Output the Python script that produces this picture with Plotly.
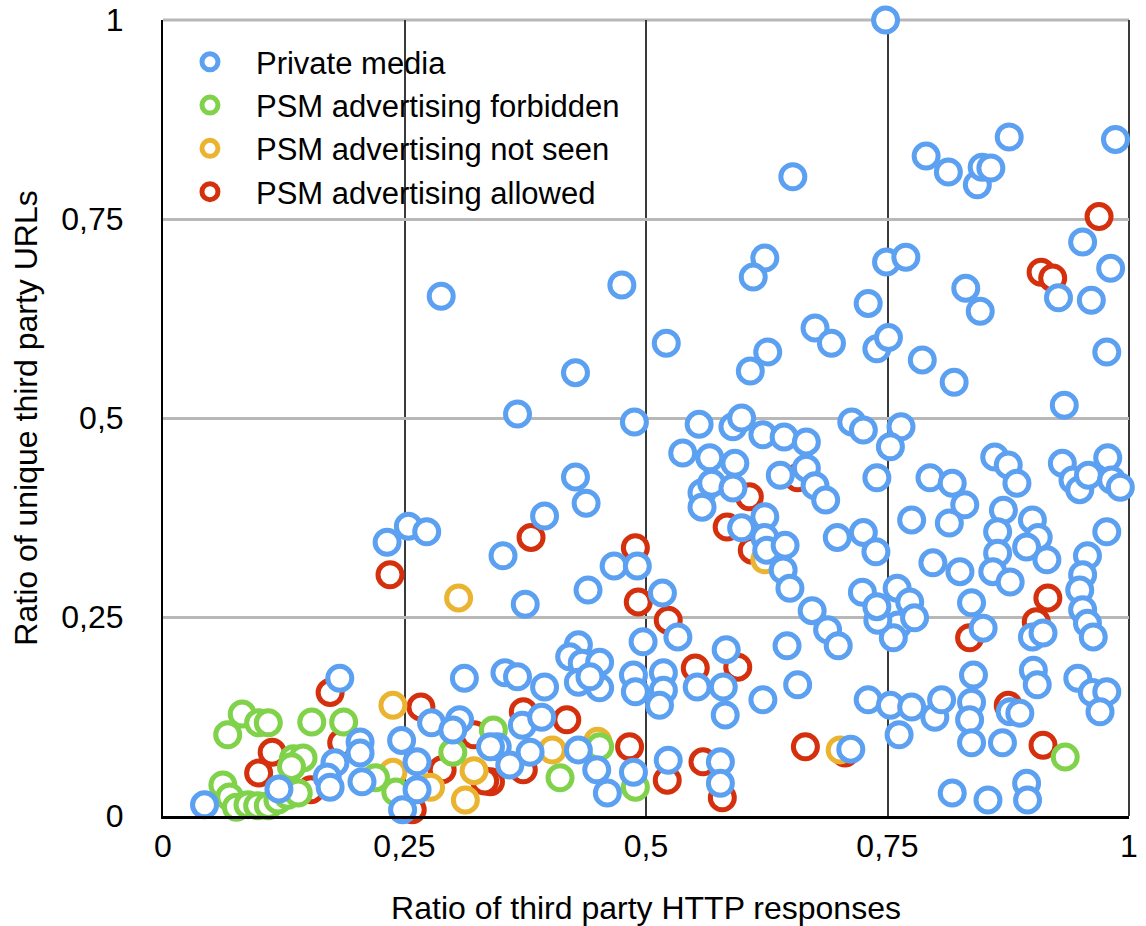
import plotly.graph_objects as go

# ---------------- data ----------------
series_names = ["Private media", "PSM advertising forbidden",
                "PSM advertising not seen", "PSM advertising allowed"]

private_x = [0.748, 0.790, 0.813, 0.843, 0.848, 0.857, 0.876, 0.986, 0.652, 0.952,
             0.981, 0.623, 0.611, 0.749, 0.769, 0.831, 0.846, 0.927, 0.961, 0.730,
             0.933, 0.288, 0.475, 0.521, 0.675, 0.692, 0.626, 0.608, 0.427, 0.367,
             0.488, 0.555, 0.590, 0.599, 0.621, 0.643, 0.666, 0.538, 0.566, 0.592,
             0.639, 0.666, 0.675, 0.686, 0.427, 0.438, 0.395, 0.352, 0.558, 0.558,
             0.568, 0.590, 0.599, 0.623, 0.623, 0.625, 0.644, 0.467, 0.491, 0.232,
             0.254, 0.273, 0.739, 0.751, 0.786, 0.819, 0.977, 0.713, 0.725, 0.764,
             0.753, 0.739, 0.861, 0.875, 0.884, 0.931, 0.942, 0.949, 0.958, 0.978,
             0.982, 0.991, 0.794, 0.817, 0.830, 0.775, 0.814, 0.870, 0.864, 0.900,
             0.906, 0.977, 0.698, 0.725, 0.738, 0.797, 0.825, 0.957, 0.864, 0.894,
             0.915, 0.859, 0.877, 0.952, 0.724, 0.760, 0.773, 0.761, 0.778, 0.756,
             0.740, 0.739, 0.672, 0.688, 0.699, 0.837, 0.949, 0.952, 0.957, 0.963,
             0.849, 0.900, 0.911, 0.839, 0.901, 0.905, 0.947, 0.962, 0.977, 0.970,
             0.730, 0.753, 0.775, 0.799, 0.806, 0.837, 0.835, 0.837, 0.869, 0.877,
             0.887, 0.762, 0.712, 0.817, 0.854, 0.894, 0.895, 0.642, 0.649, 0.440,
             0.375, 0.517, 0.533, 0.497, 0.646, 0.583, 0.430, 0.421, 0.434, 0.452,
             0.430, 0.452, 0.442, 0.354, 0.367, 0.395, 0.487, 0.489, 0.518, 0.518,
             0.514, 0.553, 0.580, 0.582, 0.621, 0.657, 0.372, 0.392, 0.346, 0.359,
             0.380, 0.430, 0.449, 0.487, 0.460, 0.523, 0.577, 0.577, 0.183, 0.312,
             0.278, 0.307, 0.300, 0.204, 0.204, 0.178, 0.170, 0.173, 0.206, 0.247,
             0.263, 0.263, 0.248, 0.120, 0.043, 0.339]
private_y = [1.000, 0.829, 0.809, 0.793, 0.815, 0.814, 0.853, 0.850, 0.803, 0.721,
             0.688, 0.701, 0.677, 0.696, 0.702, 0.663, 0.634, 0.651, 0.648, 0.644,
             0.516, 0.653, 0.667, 0.594, 0.613, 0.594, 0.583, 0.559, 0.557, 0.505,
             0.495, 0.492, 0.489, 0.500, 0.479, 0.476, 0.470, 0.456, 0.450, 0.443,
             0.428, 0.437, 0.415, 0.397, 0.426, 0.393, 0.377, 0.327, 0.406, 0.388,
             0.418, 0.412, 0.362, 0.376, 0.350, 0.334, 0.340, 0.314, 0.314, 0.344,
             0.364, 0.357, 0.587, 0.601, 0.573, 0.545, 0.583, 0.495, 0.485, 0.489,
             0.464, 0.425, 0.451, 0.441, 0.418, 0.443, 0.422, 0.410, 0.428, 0.450,
             0.422, 0.413, 0.425, 0.418, 0.391, 0.372, 0.368, 0.384, 0.357, 0.372,
             0.350, 0.357, 0.350, 0.356, 0.332, 0.318, 0.307, 0.327, 0.330, 0.338,
             0.322, 0.307, 0.294, 0.303, 0.281, 0.286, 0.269, 0.240, 0.249, 0.224,
             0.246, 0.263, 0.258, 0.234, 0.214, 0.268, 0.284, 0.259, 0.242, 0.225,
             0.236, 0.225, 0.230, 0.177, 0.183, 0.165, 0.173, 0.155, 0.156, 0.131,
             0.146, 0.139, 0.137, 0.124, 0.146, 0.143, 0.121, 0.092, 0.092, 0.131,
             0.129, 0.102, 0.084, 0.029, 0.020, 0.041, 0.020, 0.309, 0.286, 0.284,
             0.266, 0.280, 0.225, 0.219, 0.214, 0.209, 0.215, 0.200, 0.192, 0.193,
             0.168, 0.161, 0.175, 0.180, 0.175, 0.162, 0.177, 0.156, 0.180, 0.158,
             0.139, 0.162, 0.162, 0.127, 0.146, 0.165, 0.114, 0.124, 0.087, 0.064,
             0.080, 0.083, 0.058, 0.055, 0.029, 0.070, 0.068, 0.041, 0.173, 0.173,
             0.117, 0.121, 0.108, 0.093, 0.079, 0.067, 0.049, 0.036, 0.043, 0.095,
             0.068, 0.033, 0.008, 0.034, 0.014, 0.087]

forbidden_x = [0.934, 0.411, 0.452, 0.489, 0.342, 0.300, 0.220, 0.082, 0.067, 0.099,
               0.109, 0.154, 0.187, 0.135, 0.145, 0.062, 0.069, 0.076, 0.088, 0.098,
               0.109, 0.119, 0.129, 0.140, 0.241, 0.133]
forbidden_y = [0.074, 0.048, 0.087, 0.036, 0.108, 0.080, 0.048, 0.128, 0.102, 0.117,
               0.117, 0.118, 0.118, 0.072, 0.073, 0.039, 0.024, 0.011, 0.014, 0.013,
               0.013, 0.020, 0.026, 0.029, 0.030, 0.062]

notseen_x = [0.306, 0.238, 0.238, 0.322, 0.277, 0.313, 0.403, 0.450, 0.701, 0.623]
notseen_y = [0.274, 0.139, 0.055, 0.057, 0.036, 0.020, 0.083, 0.094, 0.083, 0.322]

allowed_x = [0.969, 0.909, 0.921, 0.607, 0.584, 0.489, 0.381, 0.235, 0.492, 0.523,
             0.595, 0.551, 0.665, 0.373, 0.418, 0.373, 0.483, 0.339, 0.522, 0.559,
             0.579, 0.173, 0.267, 0.113, 0.099, 0.185, 0.322, 0.289, 0.333, 0.258,
             0.153, 0.916, 0.835, 0.904, 0.875, 0.911, 0.706, 0.657, 0.610]
allowed_y = [0.753, 0.683, 0.676, 0.401, 0.363, 0.337, 0.350, 0.303, 0.269, 0.246,
             0.187, 0.186, 0.087, 0.131, 0.121, 0.058, 0.087, 0.043, 0.045, 0.068,
             0.023, 0.155, 0.137, 0.080, 0.054, 0.092, 0.102, 0.058, 0.044, 0.008,
             0.033, 0.274, 0.224, 0.244, 0.139, 0.089, 0.079, 0.425, 0.334]

tick_vals = [0, 0.25, 0.5, 0.75, 1]
tick_text = ["0", "0,25", "0,5", "0,75", "1"]

x_title = "Ratio of third party HTTP responses"
y_title = "Ratio of unique third party URLs"

# ---------------- style ----------------
FONT = "Liberation Sans, Arial, Helvetica, sans-serif"
colors = {
    "Private media": "#5CA0F2",
    "PSM advertising forbidden": "#7FD24A",
    "PSM advertising not seen": "#EAB431",
    "PSM advertising allowed": "#D5300D",
}

fig = go.Figure()

# draw order: allowed, not seen, forbidden, private (private on top)
draw = [
    (series_names[3], allowed_x, allowed_y, 4),
    (series_names[2], notseen_x, notseen_y, 3),
    (series_names[1], forbidden_x, forbidden_y, 2),
    (series_names[0], private_x, private_y, 1),
]
for name, xs, ys, rank in draw:
    fig.add_trace(go.Scatter(
        x=xs, y=ys, mode="markers", name=name, legendrank=rank,
        cliponaxis=False,
        marker=dict(size=24, color="white",
                    line=dict(color=colors[name], width=5)),
    ))

fig.update_layout(
    width=1146, height=926,
    margin=dict(l=163, r=17, t=20, b=110, autoexpand=False),
    paper_bgcolor="white", plot_bgcolor="white",
    font=dict(family=FONT, size=31, color="black"),
    showlegend=True,
    legend=dict(
        x=0.001, y=0.981, xanchor="left", yanchor="top",
        bgcolor="rgba(0,0,0,0)", itemwidth=82,
        font=dict(family=FONT, size=31, color="black"),
        tracegroupgap=0, itemsizing="trace",
    ),
    shapes=[
        # white backdrop behind the legend (hides the grid there)
        dict(type="rect", xref="paper", yref="paper",
             x0=0.025, x1=0.50, y0=0.78, y1=0.971,
             fillcolor="white", line=dict(width=0), layer="between"),
        # top frame line (grey, like the horizontal grid)
        dict(type="line", xref="paper", yref="paper",
             x0=0, x1=1, y0=1, y1=1,
             line=dict(color="#b8b8b8", width=3), layer="below"),
        # right frame line (dark, like the vertical grid)
        dict(type="line", xref="paper", yref="paper",
             x0=1, x1=1, y0=0, y1=1,
             line=dict(color="#3a3a3a", width=2), layer="below"),
    ],
)

fig.update_xaxes(
    range=[0, 1], tickvals=tick_vals, ticktext=tick_text,
    showgrid=True, gridcolor="#3a3a3a", gridwidth=2,
    showline=True, linecolor="black", linewidth=3,
    zeroline=False, ticks="", ticklabelstandoff=0, automargin=False,
    ticklabeloverflow="allow",
    tickfont=dict(family=FONT, size=32, color="black"),
    title=dict(text=x_title, standoff=55,
               font=dict(family=FONT, size=32, color="black")),
)
fig.update_yaxes(
    range=[0, 1], tickvals=tick_vals, ticktext=tick_text,
    showgrid=True, gridcolor="#b8b8b8", gridwidth=3,
    showline=True, linecolor="black", linewidth=2,
    zeroline=False, ticks="", ticklabelstandoff=31, automargin=False,
    ticklabeloverflow="allow",
    tickfont=dict(family=FONT, size=32, color="black"),
    title=dict(text=y_title, standoff=14,
               font=dict(family=FONT, size=32, color="black")),
)

# remove the default 8px page margin so the figure fills the window exactly
fig.write_html("out.html", config={"displayModeBar": False},
               post_script="document.body.style.margin='0';")
